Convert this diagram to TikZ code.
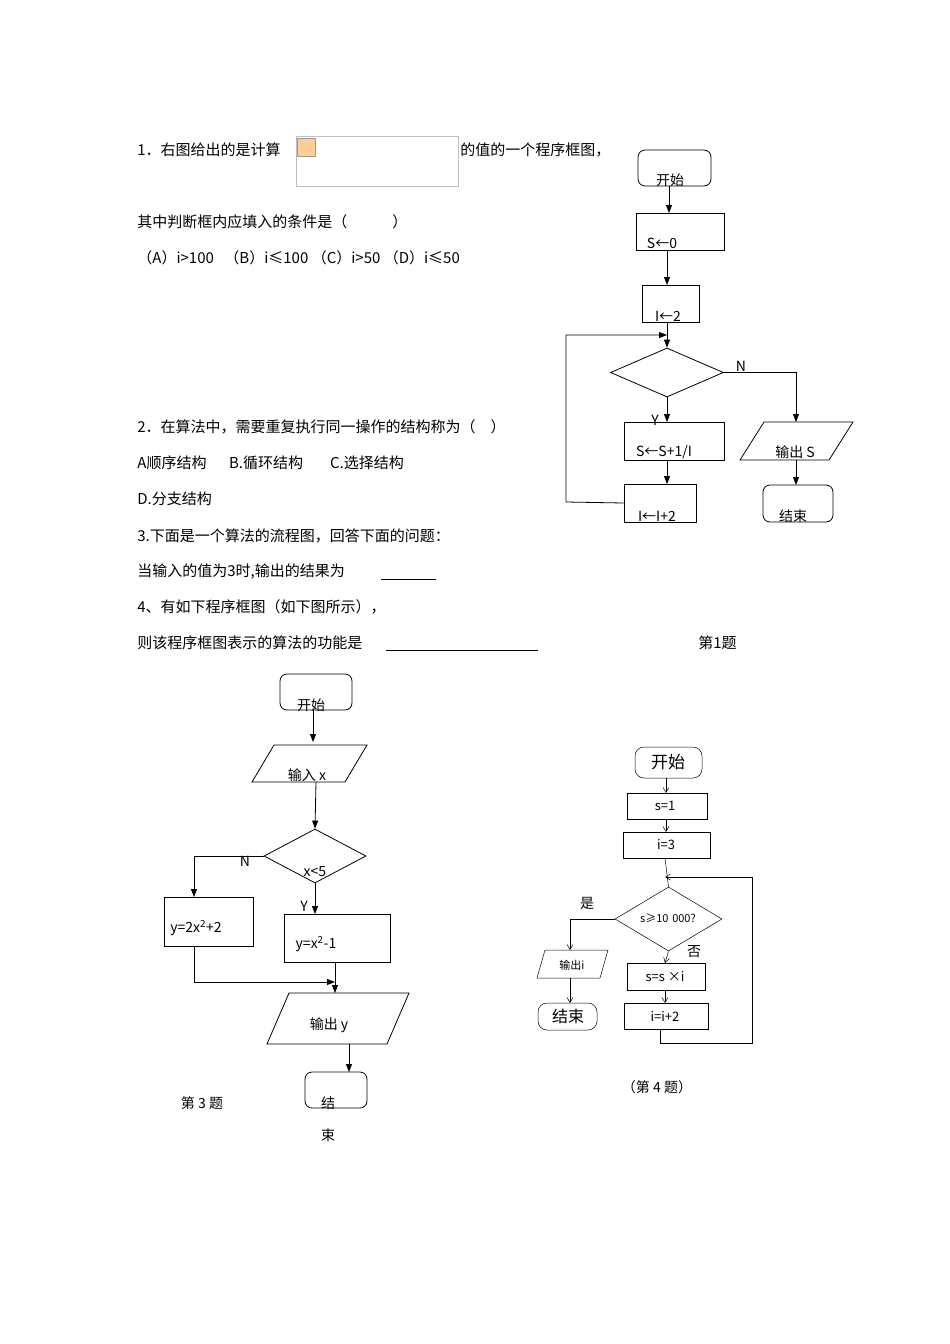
\documentclass[tikz,border=0pt]{standalone}
\usepackage{fontspec}
\setmainfont{Noto Sans CJK SC}
\usetikzlibrary{shapes.geometric,arrows.meta}
\begin{document}
\begin{tikzpicture}[x=1pt,y=-1pt,line width=0.8pt,
  txt/.style={font=\fontsize{15}{17}\selectfont,inner sep=0,anchor=west},
  lab/.style={font=\fontsize{14}{16}\selectfont,inner sep=0},
  box/.style={draw,inner sep=0,rectangle},
  term/.style={draw,inner sep=0,rectangle,rounded corners=7pt},
  dec/.style={draw,diamond,inner sep=0},
  arr/.style={-{Triangle[length=8pt,width=6pt]}},
  thin/.style={line width=0.5pt},
  tarr/.style={thin,-{Straight Barb[length=5pt,width=6pt]}},
  sfont/.style={font=\fontsize{13}{15}\selectfont,inner sep=0}]
\useasboundingbox[fill=white] (0,0) rectangle (950,1344);
% ---- text ----
\node[txt] (t1a) at (137,150) {1．右图给出的是计算};
\node[draw=black!25,thin,minimum width=162,minimum height=50,inner sep=0] (img) at (377,161) {};
\node[draw=black!40,thin,fill=orange!40,minimum size=18,inner sep=0] (ico) at (306,147) {};
\node[txt] (t1b) at (460,150) {的值的一个程序框图，};
\node[txt] (t2) at (137,222) {其中判断框内应填入的条件是（\hspace{3em}）};
\node[txt] (t3) at (137,258) {（A）i>100\hspace{0.7em}（B）i≤100 （C）i>50 （D）i≤50};
\node[txt] (t4) at (137,427) {2．在算法中，需要重复执行同一操作的结构称为（\hspace{1em}）};
\node[txt] (t5) at (137,463) {A顺序结构\hspace{1.5em}B.循环结构\hspace{1.8em}C.选择结构};
\node[txt] (t6) at (137,499) {D.分支结构};
\node[txt] (t7) at (137,536) {3.下面是一个算法的流程图，回答下面的问题：};
\node[txt] (t8) at (137,572) {当输入的值为3时,输出的结果为};
\draw[thin] (381,579) -- (436,579);
\node[txt] (t9) at (137,607) {4、有如下程序框图（如下图所示），};
\node[txt] (t10) at (137,643) {则该程序框图表示的算法的功能是};
\draw[thin] (386,650) -- (538,650);
\node[txt] (t11) at (698,643) {第1题};
% ---- chart 1 ----
\node[term,minimum width=73,minimum height=36] (a0) at (674.5,168) {};
\node[lab] at (670,180) {开始};
\node[box,minimum width=88,minimum height=37] (a1) at (680,231.5) {};
\node[lab] at (662,243) {S←0};
\node[box,minimum width=57,minimum height=37] (a2) at (670.5,303.5) {};
\node[lab] at (668,316) {I←2};
\node[dec,minimum width=113,minimum height=49] (a3) at (667,372.5) {};
\node[box,minimum width=100,minimum height=38] (a4) at (674,441) {};
\node[lab] at (664,452) {S←S+1/I};
\node[box,minimum width=72,minimum height=38] (a5) at (660,503) {};
\node[lab] at (657,516) {I←I+2};
\draw (740,460) -- (764,422) -- (853,422) -- (829,460) -- cycle;
\coordinate (a6t) at (796,422);
\coordinate (a6b) at (796,460);
\node[lab] at (795,452) {输出 S};
\node[term,minimum width=70,minimum height=37] (a7) at (798,503.5) {};
\node[lab] at (793,516) {结束};
\node[lab] at (655,420) {Y};
\node[lab] at (741,366) {N};
\coordinate (l1) at (566,502);
\coordinate (l2) at (566,335);
\coordinate (l3) at (667,335);
\draw[arr] (669,186) -- (669,213);
\draw[arr] (667,250) -- (667,285);
\draw[arr] (667,322) -- (a3.north);
\draw[arr] (a3.south) -- (667,422);
\draw[arr] (667,460) -- (667,484);
\draw[arr] (a3.east) -| (a6t);
\draw[arr] (a6b) -- (796,485);
\draw[arr] (a5.west) -- (l1) -- (l2) -- (l3);
% ---- chart 3 ----
\node[term,minimum width=72,minimum height=36] (b0) at (316,692) {};
\node[lab] at (311,705) {开始};
\draw (252,782) -- (274,745) -- (367,745) -- (345,782) -- cycle;
\node[lab] at (307,775) {输入 x};
\node[dec,minimum width=102,minimum height=54] (b2) at (315,856) {};
\node[lab] at (315,872) {x<5};
\node[box,minimum width=89,minimum height=49] (b3) at (208.5,921.5) {};
\node[lab] at (196,928) {y=2x\textsuperscript{2}+2};
\node[box,minimum width=106,minimum height=48] (b4) at (337,938) {};
\node[lab] at (316,944) {y=x\textsuperscript{2}-1};
\draw (267,1044) -- (289,993) -- (409,993) -- (387,1044) -- cycle;
\node[lab] at (329,1025) {输出 y};
\node[term,minimum width=62,minimum height=36] (b6) at (336,1090) {};
\node[lab] at (328,1103) {结};
\node[lab] at (328,1135) {束};
\node[lab] at (202,1103) {第 3 题};
\node[lab] at (245,861) {N};
\node[lab] at (304,906) {Y};
\coordinate (m1) at (194,982);
\coordinate (m2) at (335,982);
\draw[arr] (313,710) -- (313,742);
\draw[arr] (316,782) -- (b2.north);
\draw[arr] (b2.west) -| (194,897);
\draw[arr] (b2.south) -- (315,914);
\draw[arr] (194,946) -- (m1) -- (m2);
\draw[arr] (335,962) -- (335,993);
\draw[arr] (349,1044) -- (349,1072);
% ---- chart 4 ----
\node[term,thin,rounded corners=9pt,minimum width=67,minimum height=31] (c0) at (668.5,762.5) {};
\node[lab,font=\fontsize{17}{19}\selectfont] at (668,762) {开始};
\node[box,thin,minimum width=80,minimum height=26] (c1) at (667,806) {};
\node[sfont] at (665,806) {s=1};
\node[box,thin,minimum width=87,minimum height=26] (c2) at (666.5,845) {};
\node[sfont] at (666,845) {i=3};
\node[dec,thin,minimum width=107,minimum height=64] (c3) at (668.5,919) {};
\node[sfont,font=\fontsize{11}{13}\selectfont] at (668,918) {s≥10\,\,000?};
\node[box,thin,minimum width=78,minimum height=27] (c4) at (666,976.5) {};
\node[sfont] at (665,977) {s=s ×i};
\node[box,thin,minimum width=84,minimum height=26] (c5) at (666,1016) {};
\node[sfont] at (665,1016) {i=i+2};
\draw[thin] (537,978) -- (545,950) -- (608,950) -- (600,978) -- cycle;
\node[sfont,font=\fontsize{11}{13}\selectfont] at (572,965) {输出i};
\node[term,thin,rounded corners=9pt,minimum width=59,minimum height=27] (c7) at (567.5,1016.5) {};
\node[lab,font=\fontsize{16}{18}\selectfont] at (568,1016) {结束};
\node[lab] at (587,903) {是};
\node[lab] at (694,952) {否};
\node[lab] at (657,1087) {（第 4 题）};
\coordinate (n1) at (660,1043);
\coordinate (n2) at (752,1043);
\coordinate (n3) at (752,877);
\coordinate (n4) at (665,877);
\draw[tarr] (666,778) -- (666,793);
\draw[tarr] (666,819) -- (666,832);
\draw[thin] (665,858) -- (c3.north);
\draw[tarr] (c3.west) -| (570,950);
\draw[tarr] (570,978) -- (570,1003);
\draw[tarr] (c3.south) -- (665,963);
\draw[tarr] (665,990) -- (665,1003);
\draw[tarr] (660,1029) -- (n1) -- (n2) -- (n3) -- (n4);
\end{tikzpicture}
\end{document}
